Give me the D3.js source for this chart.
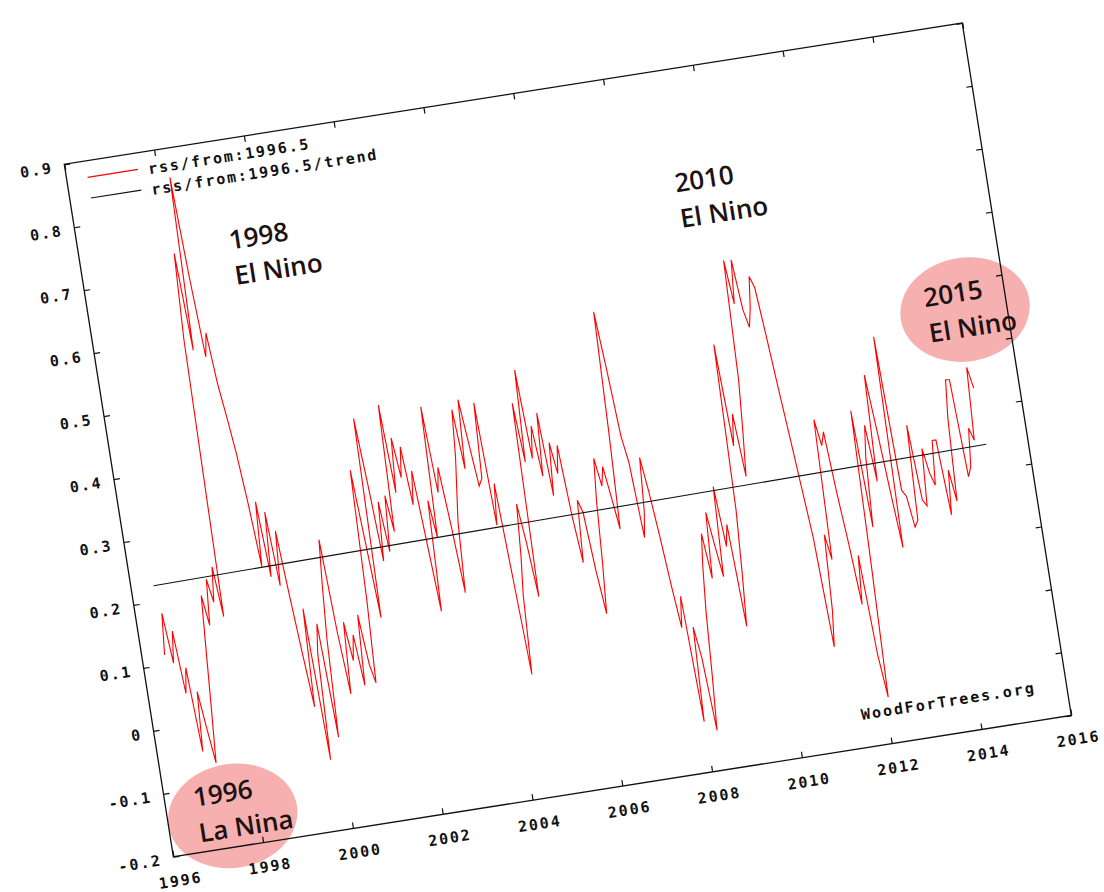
<!DOCTYPE html>
<html>
<head>
<meta charset="utf-8">
<script src="https://cdn.jsdelivr.net/npm/d3@7"></script>
<style>
  html, body { margin: 0; padding: 0; background: #fff; }
  svg { display: block; }
  .mono { font-family: "DejaVu Sans Mono", "Liberation Mono", monospace; }
  .note { font-family: "Open Sans", "Noto Sans", sans-serif; font-weight: 600; font-size: 26px; fill: #1c1212; }
</style>
</head>
<body>
<svg id="chart" width="1104" height="892"></svg>
<script>
// RSS lower-troposphere monthly anomalies (deg C), one array per calendar year.
// The 1996 array starts in July; 2015 holds January only.
const rss1996 = [0.115, 0.180, 0.100, 0.150, 0.050, 0.090];
const rss1997 = [-0.044, 0.050, -0.010, -0.065, 0.020, 0.110, 0.198, 0.150, 0.222, 0.185, 0.240, 0.160];
const rss1998 = [0.600, 0.735, 0.580, 0.854, 0.690, 0.567, 0.604, 0.520, 0.468, 0.410, 0.330, 0.228];
const rss1999 = [0.330, 0.210, 0.312, 0.194, 0.280, 0.178, 0.085, -0.002, 0.153, -0.088, 0.080, 0.126];
const rss2000 = [-0.055, 0.100, 0.185, 0.256, 0.106, 0.009, 0.122, 0.060, 0.100, 0.019, 0.130, 0.050];
const rss2001 = [0.020, 0.150, 0.356, 0.240, 0.120, 0.435, 0.330, 0.207, 0.300, 0.220, 0.308, 0.250];
const rss2002 = [0.450, 0.310, 0.396, 0.332, 0.380, 0.287, 0.340, 0.230, 0.115, 0.290, 0.230, 0.437];
const rss2003 = [0.300, 0.339, 0.250, 0.138, 0.250, 0.300, 0.350, 0.425, 0.330, 0.439, 0.370, 0.300];
const rss2004 = [0.311, 0.430, 0.235, 0.300, 0.150, -0.005, 0.120, 0.180, 0.263, 0.200, 0.114, 0.420];
const rss2005 = [0.326, 0.471, 0.330, 0.380, 0.300, 0.399, 0.267, 0.350, 0.300, 0.344, 0.230, 0.156];
const rss2006 = [0.254, 0.234, 0.138, 0.071, 0.150, 0.250, 0.315, 0.270, 0.300, 0.250, 0.199, 0.350];
const rss2007 = [0.542, 0.450, 0.343, 0.300, 0.180, 0.220, 0.305, 0.250, 0.180, 0.100, 0.031, 0.080];
const rss2008 = [-0.120, 0.029, -0.020, -0.137, -0.050, 0.050, 0.120, 0.172, 0.100, 0.204, 0.150, 0.100];
const rss2009 = [0.242, 0.146, 0.180, 0.017, 0.100, 0.200, 0.462, 0.300, 0.350, 0.250, 0.320, 0.400];
const rss2010 = [0.590, 0.520, 0.589, 0.509, 0.480, 0.510, 0.559, 0.540, 0.464, 0.380, 0.302, 0.220];
const rss2011 = [0.139, -0.036, 0.020, 0.140, 0.100, 0.321, 0.279, 0.300, 0.200, 0.120, 0.023, 0.100];
const rss2012 = [-0.060, -0.127, 0.080, 0.326, 0.140, 0.250, 0.300, 0.210, 0.378, 0.290, 0.190, 0.101];
const rss2013 = [0.435, 0.190, 0.180, 0.130, 0.140, 0.290, 0.170, 0.160, 0.250, 0.210, 0.190, 0.260];
const rss2014 = [0.260, 0.140, 0.210, 0.160, 0.290, 0.351, 0.350, 0.195, 0.210, 0.270, 0.250, 0.365];
const rss2015 = [0.331];

// Linear trend of the series over its span
const trendYears  = [1996.5, 2015.08];
const trendValues = [0.225, 0.241];

const yearTicks  = [1996, 1998, 2000, 2002, 2004, 2006, 2008, 2010, 2012, 2014, 2016];
const valueTicks = [-0.2, -0.1, 0, 0.1, 0.2, 0.3, 0.4, 0.5, 0.6, 0.7, 0.8, 0.9];

const legendLabels = ["rss/from:1996.5", "rss/from:1996.5/trend"];
const creditLabel = "WoodForTrees.org";

// Event callouts: [first line, second line]
const noteElNino98 = ["1998", "El Nino"];
const noteElNino10 = ["2010", "El Nino"];
const noteElNino15 = ["2015", "El Nino"];
const noteLaNina96 = ["1996", "La Nina"];

// ---------------------------------------------------------------------------
const yearly = [
  [1996, 6, rss1996], [1997, 0, rss1997], [1998, 0, rss1998], [1999, 0, rss1999],
  [2000, 0, rss2000], [2001, 0, rss2001], [2002, 0, rss2002], [2003, 0, rss2003],
  [2004, 0, rss2004], [2005, 0, rss2005], [2006, 0, rss2006], [2007, 0, rss2007],
  [2008, 0, rss2008], [2009, 0, rss2009], [2010, 0, rss2010], [2011, 0, rss2011],
  [2012, 0, rss2012], [2013, 0, rss2013], [2014, 0, rss2014], [2015, 0, rss2015]
];
const series = [];
yearly.forEach(([yr, firstMonth, vals]) => {
  vals.forEach((v, i) => series.push({ t: yr + (firstMonth + i) / 12, v }));
});
const trend = trendYears.map((t, i) => ({ t, v: trendValues[i] }));

const W = 909, H = 701;
const svg = d3.select("#chart");
// the whole plot sits tilted on the page
const g = svg.append("g").attr("transform", "translate(64.3,164.3) rotate(-8.95)");

const x = d3.scaleLinear().domain([1996, 2016]).range([0, W]);
const y = d3.scaleLinear().domain([-0.2, 0.9]).range([H, 0]);

// highlight ellipses, beneath the frame and data
const ellipseFill = "#f59c9c";
g.append("ellipse").attr("cx", x(1997.43)).attr("cy", y(-0.151))
  .attr("rx", 65).attr("ry", 52).attr("fill", ellipseFill).attr("fill-opacity", 0.8);
g.append("ellipse").attr("cx", x(2015.08)).attr("cy", y(0.455))
  .attr("rx", 65).attr("ry", 52).attr("fill", ellipseFill).attr("fill-opacity", 0.8);

const fmt = d => d === 0 ? "0" : d3.format(".1f")(d).replace("\u2212", "-");
const tickFont = sel => sel.selectAll("text")
  .attr("class", "mono")
  .style("font-size", "15px")
  .style("font-weight", "bold")
  .style("letter-spacing", "1.9px")
  .attr("fill", "#111");

// left axis with labels, ticks pointing inward
const gl = g.append("g")
  .call(d3.axisLeft(y).tickValues(valueTicks).tickFormat(fmt).tickSize(-6).tickSizeOuter(0).tickPadding(12));
gl.call(tickFont);
gl.selectAll("text").attr("dy", "0.42em");

// bottom axis with labels
const gb = g.append("g").attr("transform", `translate(0,${H})`)
  .call(d3.axisBottom(x).tickValues(yearTicks).tickFormat(d3.format("d")).tickSize(-6).tickSizeOuter(0).tickPadding(19));
gb.call(tickFont);
gb.selectAll("text").attr("dx", 3);

// right and top axes: ticks only
g.append("g").attr("transform", `translate(${W},0)`)
  .call(d3.axisRight(y).tickValues(valueTicks).tickFormat("").tickSize(-6).tickSizeOuter(0));
g.append("g")
  .call(d3.axisTop(x).tickValues(yearTicks).tickFormat("").tickSize(-6).tickSizeOuter(0));

g.selectAll(".domain").remove();
g.selectAll(".tick line").attr("stroke", "#111").attr("stroke-width", 1.2);

// frame
g.append("rect").attr("x", 0).attr("y", 0).attr("width", W).attr("height", H)
  .attr("fill", "none").attr("stroke", "#111").attr("stroke-width", 1.3);

// data
const line = d3.line().x(d => x(d.t)).y(d => y(d.v));
g.append("path").datum(series)
  .attr("d", line).attr("fill", "none").attr("stroke", "#ff0000")
  .attr("stroke-width", 1.1).attr("stroke-linejoin", "miter");
g.append("path").datum(trend)
  .attr("d", line).attr("fill", "none").attr("stroke", "#111").attr("stroke-width", 1.1);

// legend
const legendColors = ["#ff0000", "#111"];
legendLabels.forEach((lab, i) => {
  const ly = 16.5 + i * 21;
  g.append("line").attr("x1", 21).attr("x2", 72).attr("y1", ly).attr("y2", ly)
    .attr("stroke", legendColors[i]).attr("stroke-width", 1.1);
  g.append("text").attr("class", "mono").attr("x", 82).attr("y", ly + 6.5)
    .style("font-size", "15px").style("font-weight", "bold").style("letter-spacing", "1.9px")
    .attr("fill", "#111").text(lab);
});

// credit
g.append("text").attr("class", "mono").attr("x", W - 31).attr("y", H - 28)
  .attr("text-anchor", "end")
  .style("font-size", "15px").style("font-weight", "bold").style("letter-spacing", "2px")
  .attr("fill", "#111").text(creditLabel);

// callouts
function note(lines, lx, ly) {
  lines.forEach((s, i) => {
    g.append("text").attr("class", "note").attr("x", lx).attr("y", ly + i * 36).text(s);
  });
}
note(noteElNino98, 151, 110);
note(noteElNino10, 600, 123);
note(noteElNino15, 828, 275);
note(noteLaNina96, 29, 655);
</script>
</body>
</html>
